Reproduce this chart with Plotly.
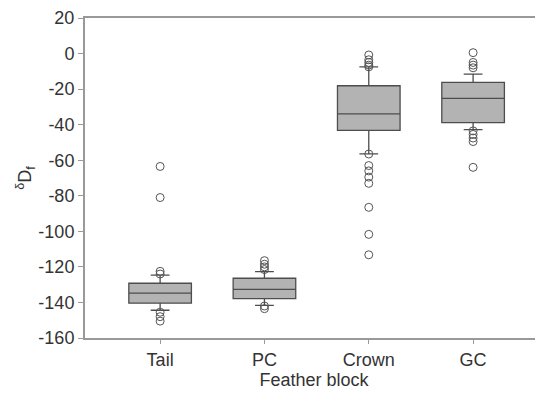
import plotly.graph_objects as go

categories = ["Tail", "PC", "Crown", "GC"]
q1 = [-140.4, -137.9, -43.2, -38.9]
median = [-134.8, -132.7, -33.9, -25.2]
q3 = [-129.2, -126.4, -18.1, -16.2]
lower_fence = [-144.4, -141.6, -56.4, -42.8]
upper_fence = [-124.6, -122.7, -7.5, -11.6]
outliers = {
    "Tail": [-63.5, -81.0, -122.5, -124.0, -145.5, -148.0, -150.5],
    "PC": [-116.5, -118.5, -120.0, -121.5, -142.0, -143.5],
    "Crown": [-0.8, -3.5, -5.0, -6.5, -7.5, -56.5, -63.0, -66.0, -69.5,
              -73.0, -86.5, -101.7, -113.2],
    "GC": [0.5, -5.0, -6.5, -8.0, -43.5, -45.5, -47.5, -49.5, -64.0],
}
y_ticks = list(range(-160, 21, 20))
y_ticktext = [str(v) for v in y_ticks]

fig = go.Figure()
fig.add_trace(go.Box(
    x=categories, q1=q1, median=median, q3=q3,
    lowerfence=lower_fence, upperfence=upper_fence,
    boxpoints=False, width=0.6, whiskerwidth=0.3,
    fillcolor="#b3b3b3", line=dict(color="#4d4d4d", width=1.3),
    showlegend=False,
))
ox, oy = [], []
for c in categories:
    for v in outliers[c]:
        ox.append(c)
        oy.append(v)
fig.add_trace(go.Scatter(
    x=ox, y=oy, mode="markers", showlegend=False,
    marker=dict(symbol="circle-open", size=8, color="#555555",
                line=dict(width=1, color="#555555")),
))

axis_font = dict(family="Liberation Sans, Arial, sans-serif", size=18, color="#333333")
fig.update_layout(
    width=535, height=385,
    margin=dict(l=77, r=0, t=5, b=55),
    paper_bgcolor="white", plot_bgcolor="white",
    font=axis_font,
    xaxis=dict(
        type="category", range=[-0.72, 3.67],
        showline=True, linecolor="#999999", linewidth=2, mirror=True,
        ticks="outside", ticklen=4, tickcolor="#999999",
        showgrid=False, zeroline=False,
        title=dict(text="Feather block", font=axis_font, standoff=2),
        tickfont=axis_font,
    ),
    yaxis=dict(
        range=[-160, 20], tickvals=y_ticks, ticktext=y_ticktext,
        showline=True, linecolor="#999999", linewidth=2,
        ticks="outside", ticklen=5, tickcolor="#999999",
        showgrid=False, zeroline=False, ticklabeloverflow="allow",
        title=dict(text="<sup>δ</sup>D<sub>f</sub>", font=axis_font, standoff=2),
        tickfont=axis_font,
    ),
)
fig.write_html("out.html")
